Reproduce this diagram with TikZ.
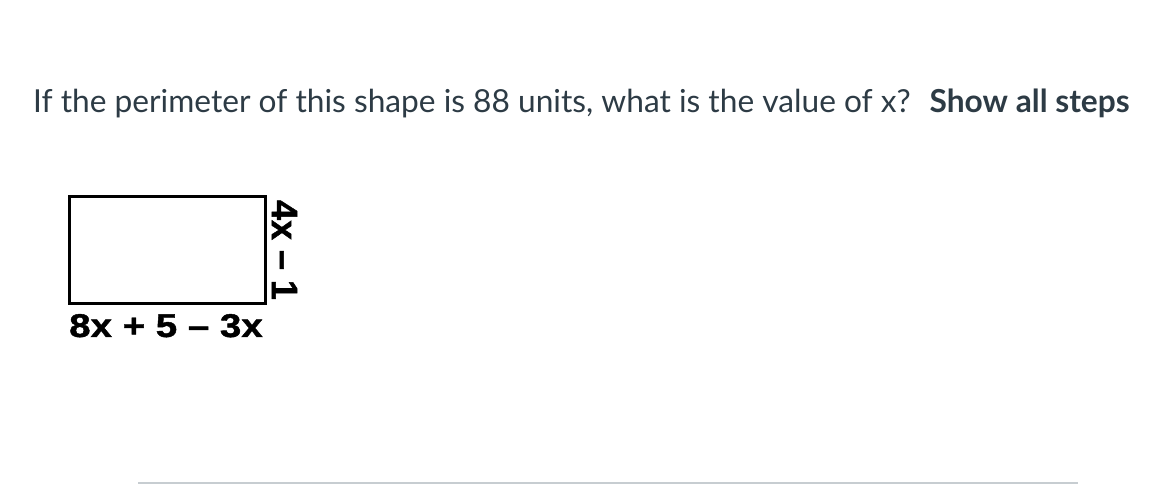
\documentclass[tikz,border=0pt]{standalone}
\usepackage{fontspec}
\setmainfont{Lato}
\newfontfamily\arialb{Liberation Sans Bold}[FakeBold=1.2]
\definecolor{txt}{HTML}{2D3B45}
\definecolor{rule}{HTML}{C7CDD1}
\begin{document}
\begin{tikzpicture}[x=1bp,y=-1bp,
  qtext/.style={inner sep=0pt, text=txt, font=\fontsize{31.8}{36}\selectfont},
  lbl/.style={inner sep=0pt, font=\arialb\fontsize{33}{36}\selectfont},
  vlbl/.style={inner sep=0pt, font=\arialb\fontsize{36}{40}\selectfont}]
\useasboundingbox (0,0) rectangle (1170,485);
\node[qtext, anchor=base west] (q) at (33,112.5) {If the perimeter of this shape is 88 units, what is the value of x?\hspace{19bp}\textbf{Show all steps}};
\node[draw, line width=3.3bp, minimum width=196bp, minimum height=107bp, inner sep=0pt, anchor=north west] (r) at (67.5,195) {};
\node[lbl, anchor=base] (b) at (166,337) {\scalebox{1.17}[1]{8x + 5 – 3x}};
\node[vlbl, anchor=center] (s) at (284.5,250) {\rotatebox{-90}{\scalebox{1}[1.02]{4x – 1}}};
\coordinate (l1) at (138,483);
\coordinate (l2) at (1078,483);
\draw[rule, line width=2bp] (l1) -- (l2);
\end{tikzpicture}
\end{document}
